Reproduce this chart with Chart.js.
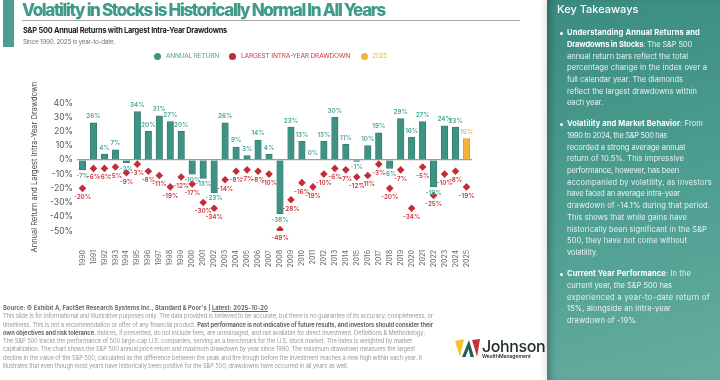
<!DOCTYPE html>
<html><head><meta charset="utf-8">
<script src="https://cdn.jsdelivr.net/npm/chart.js@4.4.1/dist/chart.umd.min.js"></script>
<style>
html,body{margin:0;padding:0}
body{width:720px;height:380px;overflow:hidden;background:#fff;font-family:Inter,"Noto Sans",sans-serif;position:relative}
.a{position:absolute;white-space:nowrap}
#accent{left:3px;top:0;width:11px;height:47px;background:#4d9e8f}
#title{left:22px;top:0;font-size:17px;font-weight:800;color:#3f9a89;line-height:20px}
#rule{left:22px;top:20px;width:498px;height:1px;background:#a8a8a8}
#sub{left:23px;top:26px;font-size:7.4px;font-weight:700;color:#222;line-height:10px}
#since{left:23px;top:37px;font-size:6.4px;color:#777;line-height:10px}
.leg{top:52px;font-size:6.6px;line-height:8px;letter-spacing:0.2px}
.dot{position:absolute;width:7px;height:7px;border-radius:50%;top:52.5px}
#chartwrap{left:0;top:0;width:545px;height:380px}
#foot{left:3px;top:304px;font-size:5.8px;color:#9a9a9a;line-height:8.3px}
#foot div{white-space:nowrap}
#foot b{color:#6a6a6a;font-weight:700}
#panel{left:547px;top:0;width:173px;height:380px;background:linear-gradient(165deg,#3b8c80 0%,#4f9f92 55%,#66ada0 100%);box-shadow:inset 7px 0 9px -5px rgba(0,0,0,0.35),-2px 0 6px rgba(0,0,0,0.12)}
#kt{left:557px;top:2px;font-size:11px;color:#fff;font-weight:500;line-height:14px}
.blk{position:absolute;left:567px;font-size:7.5px;line-height:11.7px;color:#e9f4f2}
.blk b{color:#fff;font-weight:700}
.blk div{white-space:nowrap}
.bul{position:absolute;left:560px;width:3px;height:3px;border-radius:50%;background:#fff}
#logo{left:455px;top:339px}
#jn{left:482px;top:337px;font-size:16px;font-weight:500;color:#1e2a2a;line-height:18px;letter-spacing:-0.4px}
#wm{left:482px;top:353px;font-size:5px;color:#1e2a2a;line-height:6px;font-weight:600}
</style></head><body>
<div id="chartwrap" class="a"><canvas id="c" width="545" height="380"></canvas></div>

<div id="accent" class="a"></div>
<div id="title" class="a" data-w="363">Volatility in Stocks is Historically Normal In All Years</div>
<div id="rule" class="a"></div>
<div id="sub" class="a" data-w="204">S&amp;P 500 Annual Returns with Largest Intra-Year Drawdowns</div>
<div id="since" class="a" data-w="92">Since 1990. 2025 is year-to-date.</div>

<div class="dot" style="left:153.5px;background:#3f9384"></div>
<div class="a leg" style="left:166px;color:#4aa595" data-w="53">ANNUAL RETURN</div>
<div class="dot" style="left:228.5px;background:#c42b34"></div>
<div class="a leg" style="left:241px;color:#d0343c" data-w="109">LARGEST INTRA-YEAR DRAWDOWN</div>
<div class="dot" style="left:360.5px;background:#f2b33d"></div>
<div class="a leg" style="left:372px;color:#f2b33d" data-w="15">2025</div>

<div id="foot" class="a">
<div data-w="265" style="color:#6a6a6a;font-weight:700">Source: © Exhibit A, FactSet Research Systems Inc., Standard &amp; Poor's | <u>Latest: 2025-10-20</u></div>
<div data-w="430">This slide is for informational and illustrative purposes only. The data provided is believed to be accurate, but there is no guarantee of its accuracy, completeness, or</div>
<div data-w="430">timeliness. This is not a recommendation or offer of any financial product. <b>Past performance is not indicative of future results, and investors should consider their</b></div>
<div data-w="422"><b>own objectives and risk tolerance.</b> Indices, if presented, do not include fees, are unmanaged, and not available for direct investment. Definitions &amp; Methodology:</div>
<div data-w="409">The S&amp;P 500 tracks the performance of 500 large-cap U.S. companies, serving as a benchmark for the U.S. stock market. The index is weighted by market</div>
<div data-w="412">capitalization. The chart shows the S&amp;P 500 annual price return and maximum drawdown by year since 1990. The maximum drawdown measures the largest</div>
<div data-w="419">decline in the value of the S&amp;P 500, calculated as the difference between the peak and the trough before the investment reaches a new high within each year. It</div>
<div data-w="345">illustrates that even though most years have historically been positive for the S&amp;P 500, drawdowns have occurred in all years as well.</div>
</div>

<svg id="logo" class="a" width="26" height="20" viewBox="0 0 26 20">
<polygon points="0,2 9,0 5,18" fill="#f2c230"/>
<polygon points="7,18 14,1 19,18 15.5,18 13.5,10 10.5,18" fill="#1f5d57"/>
<polygon points="17,1 25,0 22,18 19.5,9" fill="#c9303a"/>
</svg>
<div id="jn" class="a">Johnson</div>
<div id="wm" class="a">WealthManagement</div>

<div id="panel" class="a"></div>
<div id="kt" class="a">Key Takeaways</div>
<div class="bul" style="top:31.5px"></div>
<div class="blk" style="top:27.2px">
<div data-w="133"><b>Understanding Annual Returns and</b></div>
<div data-w="125"><b>Drawdowns in Stocks</b>: The S&amp;P 500</div>
<div data-w="121">annual return bars reflect the total</div>
<div data-w="140">percentage change in the index over a</div>
<div data-w="116">full calendar year. The diamonds</div>
<div data-w="130">reflect the largest drawdowns within</div>
<div data-w="36">each year.</div>
</div>
<div class="bul" style="top:122.5px"></div>
<div class="blk" style="top:118.2px">
<div data-w="136"><b>Volatility and Market Behavior</b>: From</div>
<div data-w="100">1990 to 2024, the S&amp;P 500 has</div>
<div data-w="118">recorded a strong average annual</div>
<div data-w="117">return of 10.5%. This impressive</div>
<div data-w="112">performance, however, has been</div>
<div data-w="145">accompanied by volatility, as investors</div>
<div data-w="113">have faced an average intra-year</div>
<div data-w="143">drawdown of -14.1% during that period.</div>
<div data-w="120">This shows that while gains have</div>
<div data-w="140">historically been significant in the S&amp;P</div>
<div data-w="120">500, they have not come without</div>
<div data-w="31">volatility.</div>
</div>
<div class="bul" style="top:272.5px"></div>
<div class="blk" style="top:268.2px">
<div data-w="124"><b>Current Year Performance</b>: In the</div>
<div data-w="105">current year, the S&amp;P 500 has</div>
<div data-w="143">experienced a year-to-date return of</div>
<div data-w="104">15%, alongside an intra-year</div>
<div data-w="71">drawdown of -19%.</div>
</div>

<script>
// ---- data ----
const years = ['1990','1991','1992','1993','1994','1995','1996','1997','1998','1999','2000','2001','2002','2003','2004','2005','2006','2007','2008','2009','2010','2011','2012','2013','2014','2015','2016','2017','2018','2019','2020','2021','2022','2023','2024','2025'];
const annualReturns = [-7,26,4,7,-2,34,20,31,27,20,-10,-13,-23,26,9,3,14,4,-38,23,13,0,13,30,11,-1,10,19,-6,29,16,27,-19,24,23,15];
const drawdowns = [-20,-6,-6,-5,-9,-3,-8,-11,-19,-12,-17,-30,-34,-14,-8,-7,-8,-10,-49,-28,-16,-19,-10,-6,-7,-12,-11,-3,-20,-7,-34,-5,-25,-10,-8,-19];
const yTicks = [40,30,20,10,0,-10,-20,-30,-40,-50];
const currentYear = '2025';

const TEAL='#3f9384', TEAL_LBL='#4aa595', RED='#c42b34', RED_LBL='#d0343c', GOLD='#f2b33d';

const valueLabels = {
  id:'valueLabels',
  afterDatasetsDraw(chart){
    const ctx = chart.ctx;
    ctx.save();
    ctx.font = '600 6.3px Inter, sans-serif';
    ctx.textAlign='center'; ctx.textBaseline='middle';
    chart.getDatasetMeta(0).data.forEach((el,i)=>{
      const v = annualReturns[i];
      ctx.fillStyle = years[i]===currentYear ? GOLD : TEAL_LBL;
      ctx.fillText(v+'%', el.x, v>=0 ? el.y-6.5 : el.y+6);
    });
    chart.getDatasetMeta(1).data.forEach((el,i)=>{
      ctx.fillStyle = RED_LBL;
      ctx.fillText(drawdowns[i]+'%', el.x, el.y+9);
    });
    ctx.restore();
  }
};

new Chart(document.getElementById('c'), {
  data:{
    labels: years,
    datasets:[
      {type:'bar', label:'Annual Return', data: annualReturns,
       backgroundColor: years.map(y=> y===currentYear ? GOLD : TEAL),
       borderColor: years.map(y=> y===currentYear ? '#d99a25' : '#347a6e'),
       borderWidth: 0.8, barThickness: 6.5, order:2},
      {type:'line', label:'Largest Intra-Year Drawdown', data: drawdowns, showLine:false,
       pointStyle:'rectRot', pointRadius:3.8, pointBackgroundColor:RED, pointBorderColor:RED, pointBorderWidth:0, order:1}
    ]
  },
  options:{
    responsive:false, animation:false, devicePixelRatio:1,
    layout:{padding:{left:30, top:103, right:73, bottom:109}},
    plugins:{legend:{display:false}, tooltip:{enabled:false}},
    scales:{
      x:{
        grid:{display:false}, border:{display:false},
        ticks:{maxRotation:90, minRotation:90, autoSkip:false, padding:11, color:'#666', font:{family:'Inter', size:7}},
        afterFit(s){ s.height = 40; }
      },
      y:{
        min:-50, max:40,
        afterBuildTicks(s){ s.ticks = yTicks.slice().reverse().map(v=>({value:v})); },
        grid:{color: c => c.tick && c.tick.value===0 ? '#9b9b9b' : 'rgba(0,0,0,0)', lineWidth:1.2, drawTicks:false},
        border:{display:false},
        ticks:{padding:4, color:'#555', font:{family:'Inter', size:8.6}, callback:v=>v+'%'},
        title:{display:true, text:'Annual Return and Largest Intra-Year Drawdown', color:'#444', font:{family:'Inter', size:7.5}, padding:0},
        afterFit(s){ s.width = 47; }
      }
    }
  },
  plugins:[valueLabels]
});

function fitAll(){
  document.querySelectorAll('[data-w]').forEach(el=>{
    el.style.letterSpacing='0px';
    el.style.display='inline-block';
    const w = el.getBoundingClientRect().width;
    const n = el.textContent.length;
    const t = parseFloat(el.dataset.w);
    el.style.letterSpacing = ((t - w)/n)+'px';
    el.style.display='';
    if(el.parentElement.id==='foot' || el.parentElement.classList.contains('blk')) el.style.display='block';
  });
}
fitAll();
if(document.fonts) document.fonts.ready.then(fitAll);
</script>
</body></html>
